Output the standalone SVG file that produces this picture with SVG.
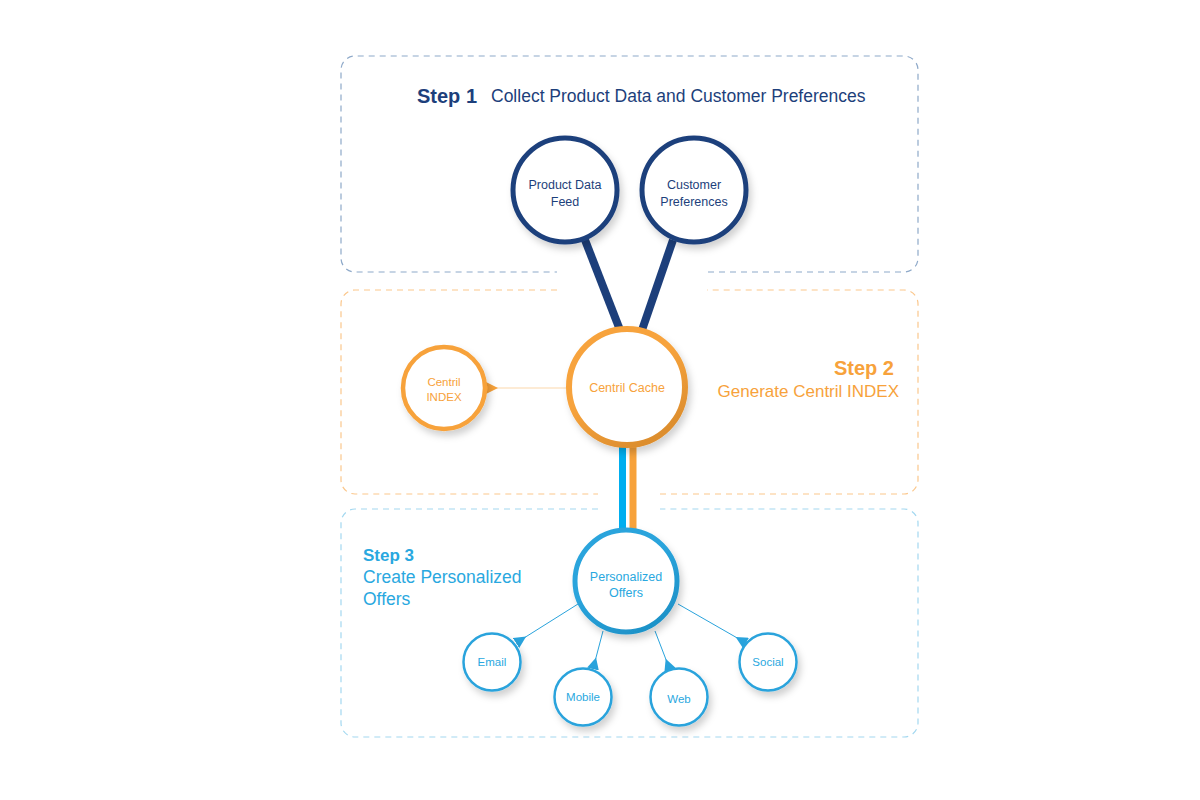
<svg xmlns="http://www.w3.org/2000/svg" width="1200" height="800" viewBox="0 0 1200 800">
<style>
.box{fill:none;stroke-width:1.2;stroke-dasharray:6 5}
.b1{stroke:#8ea9c9}.b2{stroke:#fbc78c}.b3{stroke:#a3d8f0}
.t{font-family:"Liberation Sans",Arial,sans-serif}
.n{fill:#fff;filter:url(#sh)}
.lbl{font-family:"Liberation Sans",Arial,sans-serif;text-anchor:middle}
</style>
<defs>
<filter id="sh" x="-30%" y="-30%" width="170%" height="170%">
<feDropShadow dx="3" dy="5" stdDeviation="3.5" flood-color="#000" flood-opacity="0.18"/>
</filter>
<linearGradient id="og" x1="0" y1="0" x2="0.6" y2="1">
<stop offset="0.5" stop-color="#f7a33c"/><stop offset="1" stop-color="#dd8e2e"/>
</linearGradient>
<linearGradient id="bg" x1="0" y1="0" x2="0.6" y2="1">
<stop offset="0.5" stop-color="#2aa4dc"/><stop offset="1" stop-color="#1f93c9"/>
</linearGradient>
<marker id="tb" markerUnits="userSpaceOnUse" markerWidth="12" markerHeight="12" refX="0" refY="5" orient="auto" viewBox="0 0 10 10">
<path d="M0,0 L10,5 L0,10 z" fill="#29a3dc"/>
</marker>
<marker id="to" markerUnits="userSpaceOnUse" markerWidth="12" markerHeight="12" refX="0" refY="5" orient="auto" viewBox="0 0 10 10">
<path d="M0,0 L10,5 L0,10 z" fill="#f7a23b"/>
</marker>
</defs>
<g id="step1-box">
<path class="box b1" d="M708,272 H904 A14,14 0 0 0 918,258 V70 A14,14 0 0 0 904,56 H355 A14,14 0 0 0 341,70 V258 A14,14 0 0 0 355,272 H557"/>
<text class="t" x="417" y="103" font-size="20" font-weight="bold" fill="#1d3f7b">Step 1</text>
<text class="t" x="491" y="102" font-size="17.5" fill="#1d3f7b">Collect Product Data and Customer Preferences</text>
</g>
<g id="step2-box">
<path class="box b2" d="M557,290 H355 A14,14 0 0 0 341,304 V480 A14,14 0 0 0 355,494 H598"/>
<path class="box b2" d="M660,494 H904 A14,14 0 0 0 918,480 V304 A14,14 0 0 0 904,290 H707"/>
<text class="t" x="894" y="375" font-size="20" font-weight="bold" fill="#f7a23b" text-anchor="end">Step 2</text>
<text class="t" x="899" y="397" font-size="17" fill="#f7a23b" text-anchor="end">Generate Centril INDEX</text>
</g>
<g id="step3-box">
<path class="box b3" d="M598,509 H355 A14,14 0 0 0 341,523 V723 A14,14 0 0 0 355,737 H904 A14,14 0 0 0 918,723 V523 A14,14 0 0 0 904,509 H660"/>
<text class="t" x="363" y="561" font-size="17" font-weight="bold" fill="#29a8e0">Step 3</text>
<text class="t" x="363" y="583" font-size="17.5" fill="#29a8e0">Create Personalized</text>
<text class="t" x="363" y="605" font-size="17.5" fill="#29a8e0">Offers</text>
</g>
<g id="connectors">
<line x1="585" y1="240" x2="620" y2="330" stroke="#1d3f7b" stroke-width="8"/>
<line x1="673" y1="240" x2="642" y2="330" stroke="#1d3f7b" stroke-width="8"/>
<line x1="622.5" y1="444" x2="622.5" y2="532" stroke="#00aeef" stroke-width="7"/>
<line x1="633" y1="444" x2="633" y2="532" stroke="#f7a23b" stroke-width="7"/>
<line x1="486" y1="388" x2="568" y2="388" stroke="#fcd8ab" stroke-width="1.2" marker-start="url(#to)"/>
<line x1="516" y1="643" x2="578" y2="604" stroke="#29a3dc" stroke-width="1" marker-start="url(#tb)"/>
<line x1="593" y1="669" x2="603" y2="631" stroke="#29a3dc" stroke-width="1" marker-start="url(#tb)"/>
<line x1="670" y1="670" x2="655" y2="631" stroke="#29a3dc" stroke-width="1" marker-start="url(#tb)"/>
<line x1="746" y1="643" x2="678" y2="604" stroke="#29a3dc" stroke-width="1" marker-start="url(#tb)"/>
</g>
<g id="product-data-feed">
<circle class="n" cx="565" cy="190" r="52" stroke="#1d3f7b" stroke-width="5"/>
<text class="lbl" x="565" y="189" font-size="12.5" fill="#1d3f7b">Product Data</text>
<text class="lbl" x="565" y="206" font-size="12.5" fill="#1d3f7b">Feed</text>
</g>
<g id="customer-preferences">
<circle class="n" cx="694" cy="190" r="52" stroke="#1d3f7b" stroke-width="5"/>
<text class="lbl" x="694" y="189" font-size="12.5" fill="#1d3f7b">Customer</text>
<text class="lbl" x="694" y="206" font-size="12.5" fill="#1d3f7b">Preferences</text>
</g>
<g id="centril-cache">
<circle class="n" cx="627" cy="387" r="58" stroke="url(#og)" stroke-width="6"/>
<text class="lbl" x="627" y="392" font-size="12.5" fill="#f7a23b">Centril Cache</text>
</g>
<g id="centril-index">
<circle class="n" cx="444" cy="388" r="41" stroke="#f7a23b" stroke-width="4.5"/>
<text class="lbl" x="444" y="386" font-size="11.5" fill="#f7a23b">Centril</text>
<text class="lbl" x="444" y="401" font-size="11.5" fill="#f7a23b">INDEX</text>
</g>
<g id="personalized-offers">
<circle class="n" cx="626" cy="581" r="51" stroke="url(#bg)" stroke-width="5"/>
<text class="lbl" x="626" y="581" font-size="12.5" fill="#29a8e0">Personalized</text>
<text class="lbl" x="626" y="597" font-size="12.5" fill="#29a8e0">Offers</text>
</g>
<g id="email">
<circle class="n" cx="492" cy="662" r="28.5" stroke="#29a3dc" stroke-width="2.5"/>
<text class="lbl" x="492" y="666" font-size="11.5" fill="#29a8e0">Email</text>
</g>
<g id="mobile">
<circle class="n" cx="583" cy="697" r="28.5" stroke="#29a3dc" stroke-width="2.5"/>
<text class="lbl" x="583" y="701" font-size="11.5" fill="#29a8e0">Mobile</text>
</g>
<g id="web">
<circle class="n" cx="679" cy="697" r="28.5" stroke="#29a3dc" stroke-width="2.5"/>
<text class="lbl" x="679" y="703" font-size="11.5" fill="#29a8e0">Web</text>
</g>
<g id="social">
<circle class="n" cx="768" cy="662" r="28.5" stroke="#29a3dc" stroke-width="2.5"/>
<text class="lbl" x="768" y="666" font-size="11.5" fill="#29a8e0">Social</text>
</g>
</svg>
